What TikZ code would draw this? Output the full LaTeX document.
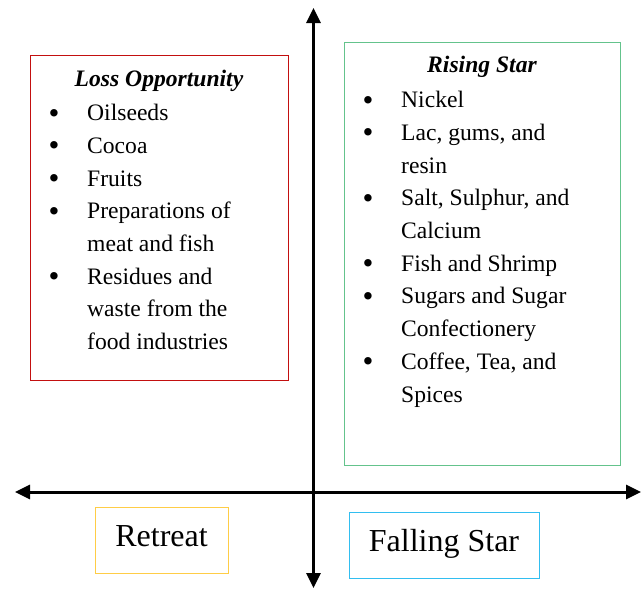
\documentclass[tikz,border=0pt]{standalone}
\usepackage{fontspec}
\setmainfont{Liberation Serif}
\usetikzlibrary{arrows.meta}
\definecolor{lossred}{RGB}{195,15,15}
\definecolor{risegreen}{RGB}{100,195,140}
\definecolor{retyellow}{RGB}{255,205,70}
\definecolor{fallblue}{RGB}{50,190,240}
\tikzset{
  box/.style={draw=#1, line width=1pt, inner sep=0pt, fill=none},
  txt/.style={font=\fontsize{23.6}{28}\selectfont, inner sep=0pt, anchor=base west},
  bul/.style={font=\fontsize{31}{34}\selectfont, inner sep=0pt, anchor=base, yshift=-2.4pt},
  ttl/.style={font=\fontsize{23.6}{28}\selectfont\bfseries\itshape, inner sep=0pt, anchor=base},
  big/.style={font=\fontsize{32}{38}\selectfont, inner sep=0pt, anchor=base},
  axisline/.style={line width=3pt, {Triangle[length=15pt,width=14pt]}-{Triangle[length=15pt,width=14pt]}}
}
\begin{document}
\begin{tikzpicture}[x=1pt,y=-1pt]
\useasboundingbox (0,0) rectangle (642,590);
% axes
\coordinate (atop) at (313.5,8);
\coordinate (abot) at (313.5,588);
\coordinate (aleft) at (15,492);
\coordinate (aright) at (641,492);
\draw[axisline] (aleft) -- (aright);
\draw[axisline] (abot) -- (atop);
% boxes
\node[box=lossred, minimum width=258pt, minimum height=325pt] (loss) at (159,217.5) {};
\node[box=risegreen, minimum width=276pt, minimum height=423pt] (rise) at (482,253.5) {};
\node[box=retyellow, minimum width=133pt, minimum height=66pt] (retreat) at (161.5,540) {};
\node[box=fallblue, minimum width=190pt, minimum height=66pt] (fall) at (444,545) {};
% labels
\node[big] (retreatlbl) at (161.5,546) {Retreat};
\node[big] (falllbl) at (444,551) {Falling Star};
% loss opportunity
\node[ttl] (lossttl) at (159,86) {Loss Opportunity};
\node[bul] (lb1) at (54,120.7) {•};
\node[txt] (l1) at (87,120.7) {Oilseeds};
\node[bul] (lb2) at (54,153.4) {•};
\node[txt] (l2) at (87,153.4) {Cocoa};
\node[bul] (lb3) at (54,186.1) {•};
\node[txt] (l3) at (87,186.1) {Fruits};
\node[bul] (lb4) at (54,218.8) {•};
\node[txt] (l4) at (87,218.8) {Preparations of};
\node[txt] (l5) at (87,251.5) {meat and fish};
\node[bul] (lb6) at (54,284.2) {•};
\node[txt] (l6) at (87,284.2) {Residues and};
\node[txt] (l7) at (87,316.9) {waste from the};
\node[txt] (l8) at (87,349.6) {food industries};
% rising star
\node[ttl] (risettl) at (482,72.7) {Rising Star};
\node[bul] (rb1) at (368,107.7) {•};
\node[txt] (r1) at (401,107.7) {Nickel};
\node[bul] (rb2) at (368,140.4) {•};
\node[txt] (r2) at (401,140.4) {Lac, gums, and};
\node[txt] (r3) at (401,173.1) {resin};
\node[bul] (rb4) at (368,205.8) {•};
\node[txt] (r4) at (401,205.8) {Salt, Sulphur, and};
\node[txt] (r5) at (401,238.5) {Calcium};
\node[bul] (rb6) at (368,271.2) {•};
\node[txt] (r6) at (401,271.2) {Fish and Shrimp};
\node[bul] (rb7) at (368,303.9) {•};
\node[txt] (r7) at (401,303.9) {Sugars and Sugar};
\node[txt] (r8) at (401,336.6) {Confectionery};
\node[bul] (rb9) at (368,369.3) {•};
\node[txt] (r9) at (401,369.3) {Coffee, Tea, and};
\node[txt] (r10) at (401,402) {Spices};
\end{tikzpicture}
\end{document}
